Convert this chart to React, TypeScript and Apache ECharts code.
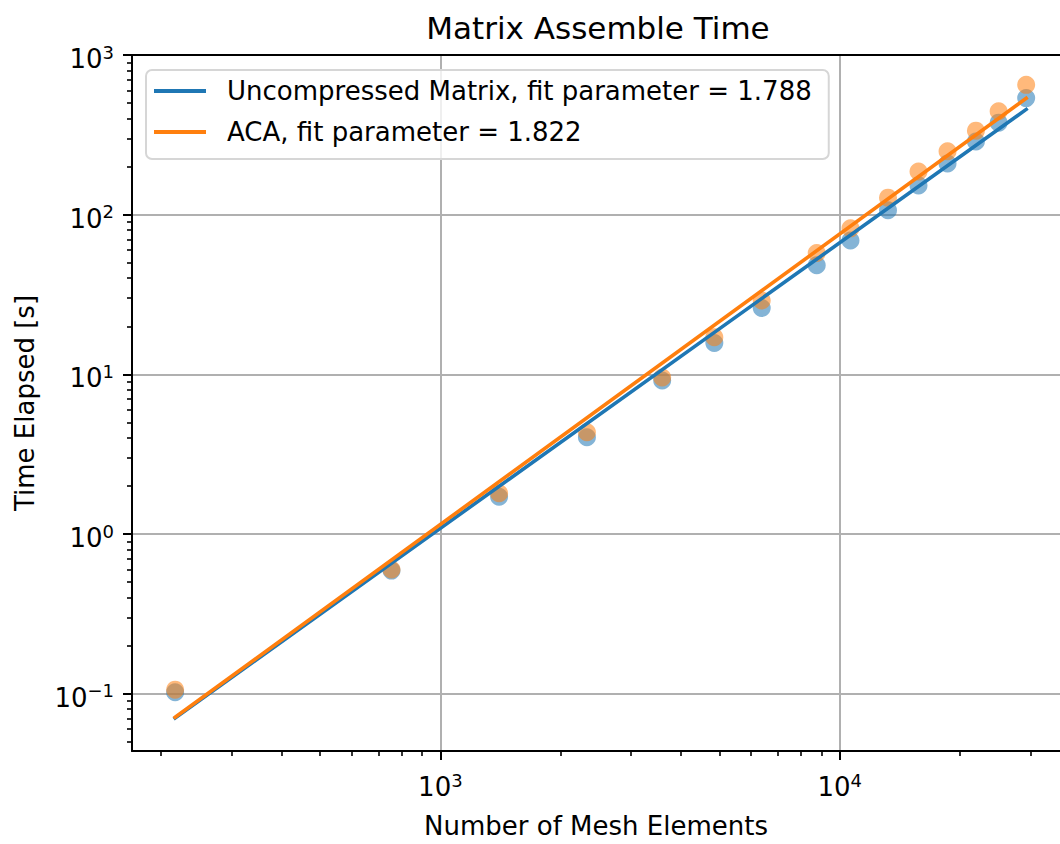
import React, { useEffect, useRef } from "react";
import * as echarts from "echarts";

// ---- data ----
const meshElements = [216.7, 754.5, 1403, 2328, 3593, 4853, 6378, 8758, 10640, 13210, 15750, 18620, 21930, 25000, 29300];
const uncompressedTime = [0.102, 0.59, 1.71, 4.04, 9.15, 15.7, 26.0, 48.2, 68.9, 106.5, 152.5, 209, 287, 377, 537];
const acaTime = [0.106, 0.6, 1.8, 4.34, 9.55, 17.1, 29.0, 57.6, 82.1, 127.8, 186.5, 249.5, 336, 444, 650];

const uncompressedFitX = [216.7, 29300];
const uncompressedFitY = [0.0705, 456];
const acaFitX = [216.7, 29300];
const acaFitY = [0.0711, 535];

const uncompressedLabel = "Uncompressed Matrix, fit parameter = 1.788";
const acaLabel = "ACA, fit parameter = 1.822";

const xRange = [169.0, 35610];
const yRange = [0.04375, 1000];

const xMajorTicks = [1000, 10000];
const xMinorTicks = [200, 300, 400, 500, 600, 700, 800, 900, 2000, 3000, 4000, 5000, 6000, 7000, 8000, 9000, 20000, 30000];
const yMajorTicks = [0.1, 1, 10, 100, 1000];
const yMinorTicks = [
  0.05, 0.06, 0.07, 0.08, 0.09,
  0.2, 0.3, 0.4, 0.5, 0.6, 0.7, 0.8, 0.9,
  2, 3, 4, 5, 6, 7, 8, 9,
  20, 30, 40, 50, 60, 70, 80, 90,
  200, 300, 400, 500, 600, 700, 800, 900,
];

const BLUE = "#1f77b4";
const ORANGE = "#ff7f0e";
const FONT = "DejaVu Sans";

const lg = (v: number) => Math.log10(v);

const powLabel = (v: number) => {
  const e = Math.round(v);
  const s = e < 0 ? "\u2212" + -e : String(e);
  return `{b|10}{s|${s}}`;
};

const labelRich = {
  b: { fontFamily: FONT, fontSize: 26, lineHeight: 32, color: "#000", verticalAlign: "middle" },
  s: { fontFamily: FONT, fontSize: 18, lineHeight: 14, color: "#000", verticalAlign: "top" },
};

export default function App() {
  const ref = useRef<HTMLDivElement>(null);

  useEffect(() => {
    if (!ref.current) return;
    const chart = echarts.init(ref.current, undefined, { renderer: "svg" });

    const xMin = lg(xRange[0]);
    const xMax = lg(xRange[1]);
    const yMin = lg(yRange[0]);
    const yMax = lg(yRange[1]);

    const baseX = {
      type: "value",
      min: xMin,
      max: xMax,
      scale: true,
    };
    const baseY = {
      type: "value",
      min: yMin,
      max: yMax,
      scale: true,
    };

    const option: any = {
      animation: false,
      backgroundColor: "#ffffff",
      textStyle: { fontFamily: FONT },
      grid: { left: 132, right: 0, top: 55, bottom: 89.7, containLabel: false },
      graphic: [
        {
          type: "text",
          x: 598,
          y: 27.5,
          style: {
            text: "Matrix Assemble Time",
            fontFamily: FONT,
            fontSize: 31,
            fill: "#000",
            textAlign: "center",
            textVerticalAlign: "middle",
          },
        },
      ],
      legend: {
        orient: "vertical",
        left: 146,
        top: 70,
        padding: [6, 17, 12, 8],
        itemGap: 11,
        itemWidth: 52,
        itemHeight: 4,
        icon: "rect",
        backgroundColor: "rgba(255,255,255,0.8)",
        borderColor: "#d6d6d6",
        borderWidth: 2,
        borderRadius: 6,
        selectedMode: false,
        data: [uncompressedLabel, acaLabel],
        textStyle: {
          fontFamily: FONT,
          fontSize: 26,
          lineHeight: 30,
          color: "#000",
          padding: [0, 0, 0, 16],
        },
        z: 10,
      },
      xAxis: [
        {
          ...baseX,
          position: "bottom",
          name: "Number of Mesh Elements",
          nameLocation: "middle",
          nameGap: 62,
          nameTextStyle: { fontFamily: FONT, fontSize: 26, color: "#000" },
          axisLine: { show: true, onZero: false, lineStyle: { color: "#000", width: 2 } },
          axisTick: { show: true, customValues: xMajorTicks.map(lg), length: 9, lineStyle: { color: "#000", width: 2 } },
          axisLabel: {
            show: true,
            customValues: xMajorTicks.map(lg),
            margin: 20,
            formatter: powLabel,
            rich: labelRich,
          },
          splitLine: { show: true, lineStyle: { color: "#b0b0b0", width: 2 } },
        },
        {
          ...baseX,
          position: "bottom",
          axisLine: { show: false, onZero: false },
          axisTick: { show: true, customValues: xMinorTicks.map(lg), length: 5, lineStyle: { color: "#000", width: 1.6 } },
          axisLabel: { show: false },
          splitLine: { show: false },
        },
        {
          ...baseX,
          position: "top",
          axisLine: { show: true, onZero: false, lineStyle: { color: "#000", width: 2 } },
          axisTick: { show: false },
          axisLabel: { show: false },
          splitLine: { show: false },
        },
      ],
      yAxis: [
        {
          ...baseY,
          position: "left",
          name: "Time Elapsed [s]",
          nameLocation: "middle",
          nameGap: 94,
          nameTextStyle: { fontFamily: FONT, fontSize: 26, color: "#000" },
          axisLine: { show: true, onZero: false, lineStyle: { color: "#000", width: 2 } },
          axisTick: { show: true, customValues: yMajorTicks.map(lg), length: 9, lineStyle: { color: "#000", width: 2 } },
          axisLabel: {
            show: true,
            customValues: yMajorTicks.map(lg),
            margin: 18,
            padding: [8, 0, 0, 0],
            formatter: powLabel,
            rich: labelRich,
          },
          splitLine: { show: true, lineStyle: { color: "#b0b0b0", width: 2 } },
        },
        {
          ...baseY,
          position: "left",
          axisLine: { show: false, onZero: false },
          axisTick: { show: true, customValues: yMinorTicks.map(lg), length: 5, lineStyle: { color: "#000", width: 1.6 } },
          axisLabel: { show: false },
          splitLine: { show: false },
        },
      ],
      series: [
        {
          name: "Uncompressed Matrix points",
          type: "scatter",
          xAxisIndex: 0,
          yAxisIndex: 0,
          symbolSize: 18,
          itemStyle: { color: BLUE, opacity: 0.55 },
          data: meshElements.map((x, i) => [lg(x), lg(uncompressedTime[i])]),
          z: 2,
        },
        {
          name: "ACA points",
          type: "scatter",
          xAxisIndex: 0,
          yAxisIndex: 0,
          symbolSize: 18,
          itemStyle: { color: ORANGE, opacity: 0.55 },
          data: meshElements.map((x, i) => [lg(x), lg(acaTime[i])]),
          z: 2,
        },
        {
          name: uncompressedLabel,
          type: "line",
          xAxisIndex: 0,
          yAxisIndex: 0,
          showSymbol: false,
          symbol: "none",
          color: BLUE,
          itemStyle: { color: BLUE },
          lineStyle: { color: BLUE, width: 3.6, cap: "square" },
          data: uncompressedFitX.map((x, i) => [lg(x), lg(uncompressedFitY[i])]),
          z: 3,
        },
        {
          name: acaLabel,
          type: "line",
          xAxisIndex: 0,
          yAxisIndex: 0,
          showSymbol: false,
          symbol: "none",
          color: ORANGE,
          itemStyle: { color: ORANGE },
          lineStyle: { color: ORANGE, width: 3.6, cap: "square" },
          data: acaFitX.map((x, i) => [lg(x), lg(acaFitY[i])]),
          z: 4,
        },
      ],
    };

    chart.setOption(option);
    return () => {
      chart.dispose();
    };
  }, []);

  return (
    <div
      ref={ref}
      style={{ position: "fixed", left: 0, top: 0, width: 1060, height: 844, background: "#fff" }}
    />
  );
}
